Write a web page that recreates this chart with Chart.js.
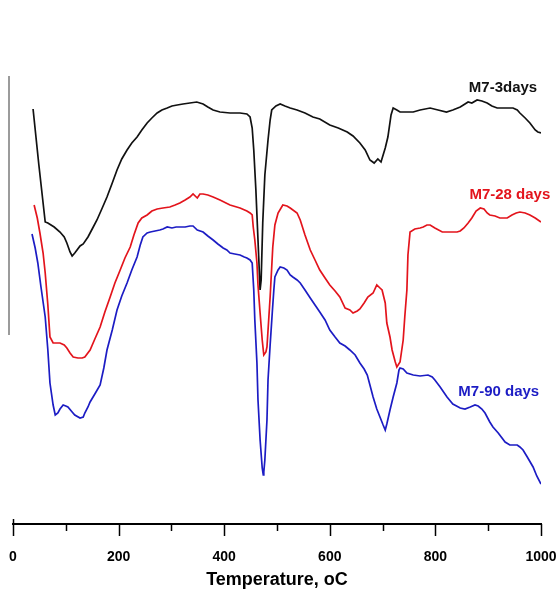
<!DOCTYPE html>
<html lang="en">

<head>
    <meta charset="UTF-8" />
    <title>DTA curves M7</title>
    <script src="https://cdn.jsdelivr.net/npm/chart.js@4"></script>
    <style type="text/css">
        body {
            margin: 0;
            background: #fff;
        }

        .chartBox {
            width: 560px;
            height: 594px;
        }
    </style>
</head>

<body>
    <div class="chartBox">
        <canvas id="myChart"></canvas>
    </div>

    <script>
        // temperature (oC) and DTA signal (arbitrary units) for each curing age
        const temp3 = [38, 49, 61, 66, 78, 89, 97, 102, 108, 112, 117, 127, 133, 142, 150, 159, 169, 178, 188, 197, 206, 216, 225, 235, 244, 254, 263, 273, 282, 292, 301, 311, 322, 335, 348, 360, 369, 379, 392, 411, 430, 443, 449, 453, 456, 460, 464, 468, 470, 473, 477, 483, 487, 490, 498, 506, 515, 525, 538, 553, 568, 581, 600, 616, 633, 644, 657, 667, 676, 684, 691, 697, 705, 710, 716, 720, 727, 733, 746, 758, 771, 790, 805, 821, 833, 847, 856, 862, 869, 879, 888, 898, 907, 917, 932, 947, 955, 960, 970, 979, 989, 994, 1000];
        const signal3 = [415, 359, 302, 301, 297, 292, 287, 281, 272, 268, 271, 278, 280, 287, 295, 304, 316, 327, 341, 354, 365, 374, 381, 387, 394, 401, 406, 411, 414, 416, 418, 419, 420, 421, 422, 420, 417, 414, 412, 411, 411, 410, 407, 396, 374, 334, 284, 234, 244, 301, 349, 384, 404, 414, 418, 420, 418, 416, 414, 411, 407, 405, 399, 396, 392, 388, 381, 374, 364, 361, 365, 362, 376, 387, 409, 416, 414, 412, 412, 412, 414, 416, 414, 412, 414, 417, 420, 422, 421, 424, 423, 421, 418, 416, 416, 416, 414, 411, 406, 401, 394, 392, 391];

        const temp28 = [40, 46, 51, 57, 61, 66, 70, 76, 83, 89, 97, 102, 108, 114, 123, 131, 136, 146, 155, 165, 174, 184, 193, 203, 212, 222, 229, 237, 244, 254, 263, 273, 284, 297, 307, 316, 326, 335, 341, 349, 354, 360, 369, 379, 392, 411, 430, 443, 449, 453, 455, 458, 462, 464, 468, 472, 475, 479, 481, 487, 492, 496, 502, 511, 519, 525, 538, 544, 553, 563, 572, 581, 591, 600, 610, 619, 629, 638, 644, 652, 657, 665, 672, 682, 689, 695, 699, 705, 708, 714, 718, 724, 727, 733, 739, 742, 746, 748, 752, 761, 771, 777, 784, 790, 799, 813, 828, 841, 847, 854, 862, 869, 877, 885, 892, 898, 903, 913, 922, 936, 945, 953, 960, 970, 979, 989, 1000];
        const signal28 = [319, 306, 291, 271, 251, 219, 187, 181, 181, 181, 179, 176, 171, 167, 166, 166, 167, 174, 185, 197, 212, 227, 241, 254, 266, 277, 289, 301, 306, 309, 313, 315, 316, 317, 319, 321, 324, 327, 330, 326, 330, 330, 329, 327, 324, 319, 316, 313, 311, 309, 297, 284, 261, 239, 211, 184, 169, 172, 177, 227, 277, 299, 311, 319, 318, 316, 311, 304, 289, 274, 264, 254, 246, 239, 233, 227, 216, 214, 211, 213, 215, 221, 227, 231, 239, 236, 234, 221, 201, 187, 174, 162, 157, 162, 184, 207, 234, 269, 292, 295, 296, 297, 299, 299, 296, 292, 292, 292, 293, 296, 301, 306, 313, 316, 315, 311, 309, 308, 306, 306, 309, 311, 312, 311, 309, 306, 302];

        const temp90 = [36, 42, 47, 53, 61, 66, 70, 76, 80, 85, 89, 95, 100, 104, 112, 117, 127, 133, 136, 142, 146, 155, 165, 172, 178, 188, 197, 206, 216, 225, 235, 241, 246, 254, 260, 269, 278, 284, 292, 301, 309, 316, 326, 335, 341, 349, 360, 369, 379, 388, 398, 405, 411, 420, 430, 438, 443, 449, 453, 456, 458, 462, 464, 468, 472, 474, 475, 477, 481, 483, 487, 491, 494, 496, 502, 506, 513, 519, 525, 530, 538, 544, 553, 563, 572, 581, 591, 600, 610, 619, 629, 638, 648, 657, 665, 671, 676, 682, 689, 695, 701, 705, 708, 714, 720, 727, 731, 733, 739, 746, 758, 771, 786, 794, 799, 809, 822, 833, 847, 856, 866, 875, 881, 888, 894, 903, 909, 919, 932, 941, 955, 960, 966, 974, 985, 992, 1000];
        const signal90 = [290, 276, 261, 237, 207, 174, 141, 119, 109, 111, 115, 119, 118, 117, 112, 109, 106, 107, 111, 117, 122, 130, 139, 156, 174, 194, 214, 228, 241, 254, 267, 279, 287, 291, 292, 293, 294, 295, 297, 296, 297, 297, 297, 298, 298, 294, 292, 288, 284, 280, 276, 274, 271, 270, 269, 267, 266, 264, 261, 234, 204, 161, 124, 84, 56, 49, 52, 64, 104, 144, 179, 211, 234, 247, 254, 257, 256, 254, 249, 247, 244, 241, 234, 226, 219, 212, 204, 194, 187, 181, 178, 174, 169, 161, 155, 149, 139, 127, 115, 107, 99, 94, 100, 114, 127, 141, 154, 156, 155, 151, 149, 148, 149, 147, 144, 137, 127, 120, 116, 115, 117, 119, 118, 115, 111, 102, 97, 91, 82, 79, 79, 77, 74, 67, 57, 48, 40];

        const seriesNames = ['M7-3days', 'M7-28 days', 'M7-90 days'];
        const seriesColors = ['#111111', '#e3141c', '#1c1cc4'];
        // where each curve's name is written (temperature, signal)
        const labelTemp = [928, 941, 920];
        const labelSignal = [436, 329, 132];

        const xTicks = [0, 100, 200, 300, 400, 500, 600, 700, 800, 900, 1000];

        const font = "Arial, 'Liberation Sans', sans-serif";

        function toPoints(xs, ys) {
            return xs.map((x, i) => ({ x: x, y: ys[i] }));
        }

        // ticks under the axis line, curve names and the short left bar
        const decorations = {
            id: 'decorations',
            afterDraw(chart) {
                const ctx = chart.ctx;
                const xs = chart.scales.x;
                const ys = chart.scales.y;
                const base = chart.chartArea.bottom;

                ctx.save();
                ctx.strokeStyle = '#000';
                ctx.lineWidth = 1.5;
                xTicks.forEach(v => {
                    const px = Math.round(xs.getPixelForValue(v)) + 0.5;
                    const len = v % 200 === 0 ? 12 : 7;
                    ctx.beginPath();
                    ctx.moveTo(px, v === 0 ? base - 5 : base);
                    ctx.lineTo(px, base + len);
                    ctx.stroke();
                });

                ctx.strokeStyle = '#7a7a7a';
                ctx.lineWidth = 1.5;
                ctx.beginPath();
                ctx.moveTo(chart.chartArea.left - 4, ys.getPixelForValue(448));
                ctx.lineTo(chart.chartArea.left - 4, ys.getPixelForValue(189));
                ctx.stroke();

                ctx.font = 'bold 15px ' + font;
                ctx.textAlign = 'center';
                ctx.textBaseline = 'middle';
                seriesNames.forEach((name, i) => {
                    ctx.fillStyle = seriesColors[i];
                    ctx.fillText(name, xs.getPixelForValue(labelTemp[i]), ys.getPixelForValue(labelSignal[i]));
                });
                ctx.restore();
            }
        };

        const ctx = document.getElementById('myChart').getContext('2d');
        const data = [[temp3, signal3], [temp28, signal28], [temp90, signal90]];

        const myChart = new Chart(ctx, {
            type: 'line',
            data: {
                datasets: data.map((d, i) => ({
                    label: seriesNames[i],
                    data: toPoints(d[0], d[1]),
                    borderColor: seriesColors[i],
                    borderWidth: 1.7,
                    pointRadius: 0,
                    tension: 0,
                    fill: false
                }))
            },
            options: {
                responsive: true,
                maintainAspectRatio: false,
                animation: false,
                events: [],
                layout: {
                    padding: { left: 13, right: 19, top: 0, bottom: 0 }
                },
                plugins: {
                    legend: { display: false },
                    tooltip: { enabled: false }
                },
                scales: {
                    x: {
                        type: 'linear',
                        min: 0,
                        max: 1000,
                        afterFit(axis) {
                            axis.height = 70;
                            axis.paddingLeft = 0;
                            axis.paddingRight = 0;
                        },
                        afterBuildTicks(axis) {
                            axis.ticks = xTicks.map(v => ({ value: v }));
                        },
                        grid: {
                            drawOnChartArea: false,
                            drawTicks: false
                        },
                        border: {
                            display: true,
                            color: '#000',
                            width: 2
                        },
                        ticks: {
                            padding: 25,
                            maxRotation: 0,
                            autoSkip: false,
                            color: '#000',
                            font: { family: font, size: 14, weight: 'bold' },
                            callback: v => (v % 200 === 0 ? String(v) : '')
                        },
                        title: {
                            display: true,
                            text: 'Temperature, oC',
                            color: '#000',
                            font: { family: font, size: 18, weight: 'bold' },
                            padding: { top: 0, bottom: 3 }
                        }
                    },
                    y: {
                        display: false,
                        min: 0,
                        max: 524
                    }
                }
            },
            plugins: [decorations]
        });
    </script>
</body>

</html>
